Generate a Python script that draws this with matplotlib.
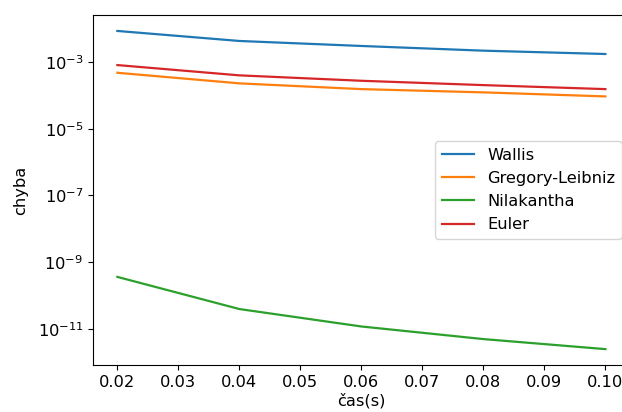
import matplotlib
matplotlib.use("Agg")
import matplotlib.pyplot as plt
from matplotlib.ticker import NullLocator

# casy behu a chyby jednotlivych metod
cas = [0.02, 0.04, 0.06, 0.08, 0.10]
wallis = [8.55e-3, 4.28e-3, 3.03e-3, 2.19e-3, 1.74e-3]
gregory_leibniz = [4.76e-4, 2.29e-4, 1.54e-4, 1.23e-4, 9.3e-5]
nilakantha = [3.59e-10, 3.9e-11, 1.17e-11, 4.9e-12, 2.45e-12]
euler = [8.1e-4, 3.98e-4, 2.74e-4, 2.03e-4, 1.54e-4]

plt.rcParams['font.size'] = 11.7
plt.rcParams['lines.linewidth'] = 1.6

fig = plt.figure(figsize=(6.22, 4.12), dpi=100)
# prava hrana os lezi az za okrajem obrazku
ax = fig.add_axes([0.1495, 0.114, 0.863, 0.8495])

ax.plot(cas, wallis, label='Wallis')
ax.plot(cas, gregory_leibniz, label='Gregory-Leibniz')
ax.plot(cas, nilakantha, label='Nilakantha')
ax.plot(cas, euler, label='Euler')

ax.set_yscale('log')
ax.set_yticks([1e-11, 1e-9, 1e-7, 1e-5, 1e-3])
ax.yaxis.set_minor_locator(NullLocator())
ax.set_xticks([0.02, 0.03, 0.04, 0.05, 0.06, 0.07, 0.08, 0.09, 0.10])
ax.set_xticklabels(['0.02', '0.03', '0.04', '0.05', '0.06', '0.07', '0.08', '0.09', '0.10'])
ax.spines['right'].set_visible(False)

ax.set_xlabel('čas(s)', labelpad=2)
ax.set_ylabel('chyba', labelpad=7)
ax.legend(loc='center right')

fig.savefig('out.png', dpi=100)
